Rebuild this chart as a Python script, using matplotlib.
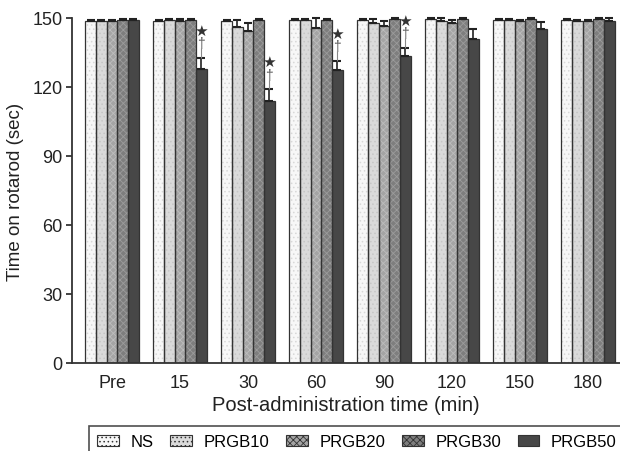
import matplotlib
matplotlib.use("Agg")
import matplotlib.pyplot as plt
import numpy as np
from matplotlib.patches import Patch

plt.rcParams['font.family'] = ['Liberation Sans', 'DejaVu Sans']
plt.rcParams['hatch.linewidth'] = 0.6

categories = ["Pre", "15", "30", "60", "90", "120", "150", "180"]
series = ["NS", "PRGB10", "PRGB20", "PRGB30", "PRGB50"]
ns = [148.5, 148.5, 148.5, 149.0, 149.0, 149.5, 149.0, 149.0]
prgb10 = [148.5, 149.0, 146.0, 149.0, 148.0, 148.6, 149.0, 148.5]
prgb20 = [148.5, 148.5, 144.5, 145.5, 146.7, 147.7, 148.5, 148.5]
prgb30 = [149.0, 149.0, 149.0, 149.0, 149.5, 149.5, 149.5, 149.5]
prgb50 = [149.0, 127.8, 114.0, 127.5, 133.6, 141.0, 145.2, 148.5]
err_ns = [0.5, 0.5, 0.5, 0.5, 0.5, 0.5, 0.5, 0.5]
err_10 = [0.5, 0.5, 3.0, 0.5, 1.5, 1.5, 0.5, 0.5]
err_20 = [0.5, 1.0, 3.5, 4.5, 2.0, 1.5, 0.5, 0.5]
err_30 = [0.5, 0.5, 0.5, 0.5, 0.5, 0.5, 0.5, 0.5]
err_50 = [0.5, 5.0, 5.0, 4.0, 3.5, 4.0, 3.0, 1.5]
signif = [False, True, True, True, True, False, False, False]

values = [ns, prgb10, prgb20, prgb30, prgb50]
errors = [err_ns, err_10, err_20, err_30, err_50]
faces = ['#f7f7f7', '#dadada', '#a4a4a4', '#7e7e7e', '#474747']
hatch_cols = ['#d8d8d8', '#c6c6c6', '#bdbdbd', '#9c9c9c', '#474747']
hatches = ['....', '....', 'xxxxx', 'xxxxx', None]

fig = plt.figure(figsize=(6.2, 4.52), dpi=100)
ax = fig.add_axes([72/620, 1-364/452, 1-72/620, (364-19)/452])

x = np.arange(len(categories))
w = 0.156
for i, (vals, errs) in enumerate(zip(values, errors)):
    pos = x + (i - 2) * w
    ax.bar(pos, vals, w, color=faces[i], edgecolor=hatch_cols[i], linewidth=0,
           hatch=hatches[i], zorder=2)
    ax.bar(pos, vals, w, facecolor='none', edgecolor='#333333', linewidth=0.9,
           zorder=3)
    ax.errorbar(pos, vals, yerr=[np.zeros(len(errs)), errs], fmt='none',
                ecolor='#222222', elinewidth=1.2, capsize=3, capthick=1.5,
                zorder=4, clip_on=False)

for j, s in enumerate(signif):
    if s:
        px = x[j] + 2 * w
        top = prgb50[j] + err_50[j]
        ax.vlines(px, top, top + 4.0, color='#888888', linewidth=0.8, zorder=4)
        ax.text(px, top + 6.3, "†", ha='center', va='center', fontsize=10,
                color='#555555', clip_on=False)
        ax.text(px, top + 12.0, "★", ha='center', va='center', fontsize=11,
                color='#333333', family=['DejaVu Sans'], clip_on=False)

handles = [Patch(facecolor=faces[i], edgecolor='#333333', hatch=hatches[i],
                 linewidth=0.8) for i in range(5)]
leg = fig.legend(handles, series, ncol=5, loc='upper left',
                 bbox_to_anchor=(89/620, 1-427/452), borderaxespad=0,
                 fontsize=12, frameon=True, fancybox=False, edgecolor='#222222',
                 handlelength=1.3, handleheight=0.6, columnspacing=1.0,
                 handletextpad=0.7, borderpad=0.5)
leg.get_frame().set_linewidth(1.2)

ax.set_xlim(-40/68, (620-112)/68)
ax.set_ylim(0, 150)
ax.set_yticks([0, 30, 60, 90, 120, 150])
ax.set_xticks(x)
ax.set_xticklabels(categories)
ax.tick_params(axis='x', length=0, labelsize=13, pad=8, colors='#222222')
ax.tick_params(axis='y', length=4, width=1.2, labelsize=13, pad=3, colors='#222222')
ax.spines['top'].set_visible(False)
ax.spines['right'].set_visible(False)
for sp in ('left', 'bottom'):
    ax.spines[sp].set_linewidth(1.3)
    ax.spines[sp].set_color('#333333')
ax.set_ylabel('Time on rotarod (sec)', fontsize=13.5, color='#222222', labelpad=6)
ax.set_xlabel('Post-administration time (min)', fontsize=14.5, color='#222222', labelpad=3)

fig.savefig('out.png', dpi=100)
